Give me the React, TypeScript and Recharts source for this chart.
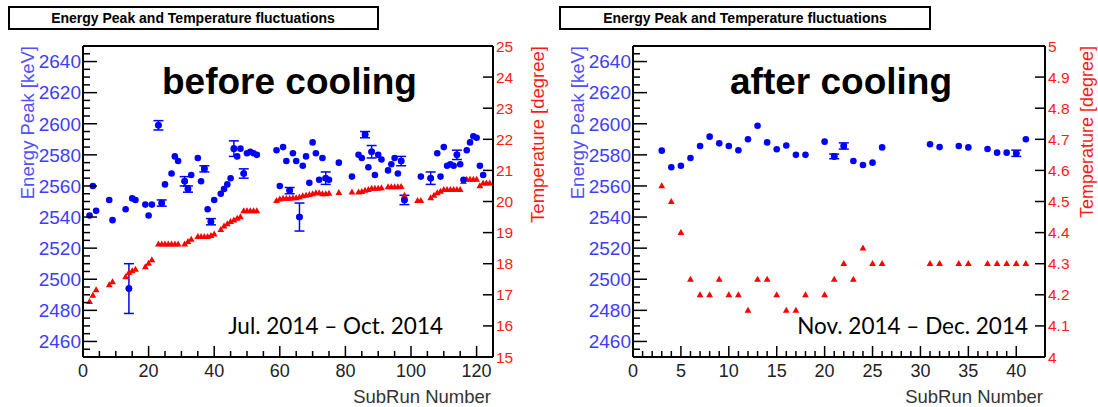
import React from "react";
import { ScatterChart, Scatter, XAxis, YAxis, ErrorBar } from "recharts";

// [subRun, peak keV, error keV] -- before cooling (Jul.-Oct. 2014)
const beforePeak: number[][] = [
  [2, 2541, 0], [3, 2560, 0], [4, 2544, 0], [8, 2551, 0], [9, 2538, 0],
  [13, 2545, 0], [14, 2494, 16], [15, 2552, 0], [16, 2551, 0], [19, 2548, 0],
  [20, 2541, 0], [21, 2548, 0], [23, 2599, 3], [24, 2549, 2], [25, 2561, 0],
  [27, 2568, 0], [28, 2579, 0], [29, 2576, 0], [31, 2563, 3], [32, 2558, 2],
  [33, 2567, 0], [35, 2578, 0], [36, 2563, 0], [37, 2571, 2], [38, 2545, 0],
  [39, 2537, 2], [40, 2551, 0], [42, 2555, 0], [43, 2558, 0], [44, 2561, 0],
  [45, 2565, 0], [46, 2584, 5], [47, 2579, 0], [48, 2584, 0], [49, 2568, 3],
  [50, 2581, 0], [51, 2582, 0], [52, 2581, 0], [53, 2580, 0], [59, 2583, 0],
  [60, 2560, 0], [61, 2585, 0], [62, 2576, 0], [63, 2557, 2], [64, 2581, 0],
  [65, 2576, 0], [66, 2540, 9], [67, 2573, 0], [68, 2579, 0], [69, 2562, 0],
  [70, 2588, 0], [71, 2581, 0], [72, 2564, 0], [73, 2578, 0], [74, 2565, 4],
  [75, 2564, 0], [78, 2575, 0], [82, 2566, 0], [84, 2580, 0], [85, 2578, 0],
  [86, 2593, 2], [87, 2572, 0], [88, 2582, 4], [89, 2567, 0], [90, 2580, 0],
  [91, 2577, 0], [93, 2570, 0], [94, 2574, 0], [95, 2578, 0], [96, 2568, 0],
  [97, 2576, 3], [98, 2551, 3], [103, 2566, 0], [106, 2565, 4], [108, 2581, 0],
  [109, 2566, 0], [110, 2585, 0], [111, 2573, 0], [112, 2574, 0], [113, 2573, 0],
  [114, 2580, 3], [115, 2574, 0], [116, 2564, 0], [117, 2583, 0], [118, 2588, 0],
  [119, 2592, 0], [120, 2591, 0], [121, 2573, 0], [122, 2567, 0],
];

// [subRun, temperature degree]
const beforeTemp: number[][] = [
  [2, 16.78], [3, 16.98], [4, 17.16], [8, 17.32], [9, 17.42], [13, 17.58],
  [14, 17.71], [15, 17.77], [16, 17.82], [19, 17.9], [20, 18.01], [21, 18.12],
  [23, 18.63], [24, 18.63], [25, 18.63], [26, 18.63], [27, 18.63], [28, 18.63],
  [29, 18.63], [31, 18.63], [32, 18.71], [33, 18.78], [35, 18.87], [36, 18.87],
  [37, 18.87], [38, 18.87], [39, 18.9], [40, 18.95], [42, 19.1], [43, 19.21],
  [44, 19.28], [45, 19.35], [46, 19.4], [47, 19.46], [48, 19.51], [49, 19.7],
  [50, 19.7], [51, 19.7], [52, 19.7], [53, 19.7], [59, 20.03], [60, 20.08],
  [61, 20.1], [62, 20.1], [63, 20.1], [64, 20.12], [65, 20.12], [66, 20.14],
  [67, 20.18], [68, 20.2], [69, 20.22], [70, 20.25], [71, 20.28], [72, 20.28],
  [73, 20.25], [74, 20.25], [75, 20.26], [78, 20.29], [82, 20.3], [84, 20.3],
  [85, 20.32], [86, 20.36], [87, 20.38], [88, 20.42], [89, 20.42], [90, 20.42],
  [91, 20.44], [93, 20.47], [94, 20.47], [95, 20.47], [96, 20.47], [97, 20.48],
  [98, 20.2], [102, 20.03], [103, 20.03], [106, 20.12], [107, 20.2], [108, 20.28],
  [109, 20.33], [110, 20.38], [111, 20.38], [112, 20.38], [113, 20.38], [114, 20.38],
  [115, 20.38], [116, 20.64], [117, 20.71], [118, 20.71], [119, 20.71], [120, 20.71],
  [121, 20.5], [122, 20.59], [123, 20.59], [124, 20.59],
];

// after cooling (Nov.-Dec. 2014)
const afterPeak: number[][] = [
  [3, 2582.7, 0], [4, 2572, 0], [5, 2573, 0], [6, 2578, 0], [7, 2585.7, 0],
  [8, 2591.7, 0], [9, 2587.4, 0], [10, 2585.7, 0], [11, 2583, 0], [12, 2590, 0],
  [13, 2598.7, 0], [14, 2588, 0], [15, 2583.6, 0], [16, 2586, 0], [17, 2580, 0],
  [18, 2580, 0], [20, 2588.5, 0], [21, 2579, 1.5], [22, 2585.7, 2], [23, 2576, 0],
  [24, 2573.5, 0], [25, 2575, 0], [26, 2584.8, 0], [31, 2586.8, 0], [32, 2585, 0],
  [34, 2585.7, 0], [35, 2584.8, 0], [37, 2583.8, 0], [38, 2581.4, 0], [39, 2581.4, 0],
  [40, 2581, 2], [41, 2590, 0],
];

const afterTemp: number[][] = [
  [3, 4.55], [4, 4.5], [5, 4.4], [6, 4.25], [7, 4.2], [8, 4.2], [9, 4.25],
  [10, 4.2], [11, 4.2], [12, 4.15], [13, 4.25], [14, 4.25], [15, 4.2], [16, 4.15],
  [17, 4.15], [18, 4.2], [20, 4.2], [21, 4.25], [22, 4.3], [23, 4.25], [24, 4.35],
  [25, 4.3], [26, 4.3], [31, 4.3], [32, 4.3], [34, 4.3], [35, 4.3], [37, 4.3],
  [38, 4.3], [39, 4.3], [40, 4.3], [41, 4.3],
];

const peakLabels = [2460, 2480, 2500, 2520, 2540, 2560, 2580, 2600, 2620, 2640];
const beforeXLabels = [0, 20, 40, 60, 80, 100, 120];
const afterXLabels = [0, 5, 10, 15, 20, 25, 30, 35, 40];
const beforeTempTicks = [15, 16, 17, 18, 19, 20, 21, 22, 23, 24, 25];
const afterTempTicks = [4, 4.1, 4.2, 4.3, 4.4, 4.5, 4.6, 4.7, 4.8, 4.9, 5];

const FONT = '"Liberation Sans", Arial, Helvetica, sans-serif';
const BLUE = "#0000ff";
const RED = "#ff0000";
const LABEL_BLUE = "#3d3dff";
const LABEL_RED = "#ff1a1a";

function steps(a: number, b: number, s: number) {
  const out: number[] = [];
  for (let v = a; v <= b + 1e-9; v += s) out.push(Math.round(v * 1000) / 1000);
  return out;
}

const isIn = (arr: number[], v: number) => arr.some((a) => Math.abs(a - v) < 1e-6);

const Dot = (p: any) => <circle cx={p.cx} cy={p.cy} r={3.3} fill={BLUE} />;
const Tri = (p: any) => (
  <path
    d={`M${p.cx},${p.cy - 3.6} L${p.cx + 3.4},${p.cy + 2.4} L${p.cx - 3.4},${p.cy + 2.4} Z`}
    fill={RED}
  />
);

function Panel({
  peak, temp, xMax, xMinor, xLabels, tempDomain, tempTicks, width, marginRight,
}: any) {
  const pts = peak.map((r: number[]) => ({ x: r[0], y: r[1], err: r[2] }));
  const errPts = pts.filter((p: any) => p.err > 0);
  const tPts = temp.map((r: number[]) => ({ x: r[0], y: r[1] }));
  const yMinor = steps(2455, 2645, 5);
  const xTicks = steps(0, xLabels[xLabels.length - 1], xMinor);

  const leftTick = (t: any) => {
    const v = t.payload.value;
    const major = isIn(peakLabels, v);
    return (
      <g>
        <line x1={t.x} y1={t.y} x2={t.x + (major ? 14 : 7)} y2={t.y} stroke="#000" strokeWidth={1.5} />
        {major && (
          <text x={t.x - 2} y={t.y} dy="0.36em" textAnchor="end" fill={LABEL_BLUE} fontSize={19} fontFamily={FONT}>
            {v}
          </text>
        )}
      </g>
    );
  };
  const rightTick = (t: any) => {
    const v = t.payload.value;
    const edge = v === tempDomain[0] || v === tempDomain[1];
    return (
      <g>
        {!edge && <line x1={t.x} y1={t.y} x2={t.x - 10} y2={t.y} stroke="#000" strokeWidth={1.5} />}
        <text x={t.x + 3} y={t.y} dy="0.36em" textAnchor="start" fill={LABEL_RED} fontSize={15.5} fontFamily={FONT}>
          {String(v)}
        </text>
      </g>
    );
  };
  const bottomTick = (t: any) => {
    const v = t.payload.value;
    const major = isIn(xLabels, v);
    return (
      <g>
        <line x1={t.x} y1={t.y} x2={t.x} y2={t.y - (major ? 11 : 6)} stroke="#000" strokeWidth={1.5} />
        {major && (
          <text x={t.x} y={t.y + 20} textAnchor="middle" fill="#222" fontSize={18} fontFamily={FONT}>
            {v}
          </text>
        )}
      </g>
    );
  };

  return (
    <ScatterChart width={width} height={407} margin={{ top: 45, right: marginRight, bottom: 49, left: 82 }}>
      <XAxis
        dataKey="x" type="number" domain={[0, xMax]} ticks={xTicks} interval={0}
        height={1} tickSize={0} tickMargin={0} tick={bottomTick}
        axisLine={{ stroke: "#000", strokeWidth: 2 }} allowDataOverflow
      />
      <XAxis
        xAxisId="top" orientation="top" type="number" domain={[0, xMax]} height={1}
        tick={false} tickLine={false} axisLine={{ stroke: "#000", strokeWidth: 2 }}
      />
      <YAxis
        yAxisId="e" dataKey="y" type="number" domain={[2450, 2650]} ticks={yMinor} interval={0}
        width={1} tickSize={0} tickMargin={0} tick={leftTick}
        axisLine={{ stroke: "#000", strokeWidth: 2 }} allowDataOverflow
      />
      <YAxis
        yAxisId="t" orientation="right" dataKey="y" type="number" domain={tempDomain}
        ticks={tempTicks} interval={0} width={1} tickSize={0} tickMargin={0} tick={rightTick}
        axisLine={{ stroke: "#000", strokeWidth: 2 }} allowDataOverflow
      />
      <Scatter data={tPts} yAxisId="t" shape={Tri} isAnimationActive={false} />
      <Scatter data={errPts} yAxisId="e" shape={Dot} isAnimationActive={false}>
        <ErrorBar dataKey="err" direction="y" width={5} stroke={BLUE} strokeWidth={1.5} />
      </Scatter>
      <Scatter data={pts} yAxisId="e" shape={Dot} isAnimationActive={false} />
    </ScatterChart>
  );
}

function Overlay() {
  const title = "Energy Peak and Temperature fluctuations";
  return (
    <svg width={1098} height={407} style={{ position: "absolute", left: 0, top: 0, pointerEvents: "none" }}>
      <g fontFamily={FONT}>
        <rect x={9} y={7} width={369} height={22} fill="#fff" stroke="#000" strokeWidth={2} />
        <text x={193} y={18} dy="0.36em" textAnchor="middle" fontSize={14} fontWeight="bold">{title}</text>
        <rect x={560} y={7} width={370} height={22} fill="#fff" stroke="#000" strokeWidth={2} />
        <text x={745} y={18} dy="0.36em" textAnchor="middle" fontSize={14} fontWeight="bold">{title}</text>

        <text x={162} y={94} fontSize={37} fontWeight="bold" fill="#000">before cooling</text>
        <text x={730} y={94} fontSize={37} fontWeight="bold" fill="#000">after cooling</text>

        <text transform="translate(27,46) rotate(-90)" textAnchor="end" dy="0.36em" fontSize={18.5} fill="#5050ff">Energy Peak [keV]</text>
        <text transform="translate(577,46) rotate(-90)" textAnchor="end" dy="0.36em" fontSize={18.5} fill="#5050ff">Energy Peak [keV]</text>
        <text transform="translate(537,46) rotate(-90)" textAnchor="end" dy="0.36em" fontSize={18.5} fill={LABEL_RED}>Temperature [degree]</text>
        <text transform="translate(1087,46) rotate(-90)" textAnchor="end" dy="0.36em" fontSize={18} fill={LABEL_RED}>Temperature [degree]</text>

        <text x={491} y={403} textAnchor="end" fontSize={18.5} fill="#333">SubRun Number</text>
        <text x={1043} y={403} textAnchor="end" fontSize={18.5} fill="#333">SubRun Number</text>
      </g>
      <g fontFamily='Lato, "Open Sans", sans-serif' fontSize={22.5} fill="#000">
        <text x={443} y={334} textAnchor="end">Jul. 2014 – Oct. 2014</text>
        <text x={1028} y={334} textAnchor="end">Nov. 2014 – Dec. 2014</text>
      </g>
    </svg>
  );
}

export default function App() {
  return (
    <div style={{ position: "absolute", left: 0, top: 0, width: 1098, height: 407, background: "#fff", overflow: "hidden" }}>
      <div style={{ position: "absolute", left: 0, top: 0 }}>
        <Panel
          peak={beforePeak} temp={beforeTemp} xMax={125} xMinor={5} xLabels={beforeXLabels}
          tempDomain={[15, 25]} tempTicks={beforeTempTicks} width={550} marginRight={56}
        />
      </div>
      <div style={{ position: "absolute", left: 550, top: 0 }}>
        <Panel
          peak={afterPeak} temp={afterTemp} xMax={43} xMinor={1} xLabels={afterXLabels}
          tempDomain={[4, 5]} tempTicks={afterTempTicks} width={548} marginRight={52}
        />
      </div>
      <Overlay />
    </div>
  );
}
